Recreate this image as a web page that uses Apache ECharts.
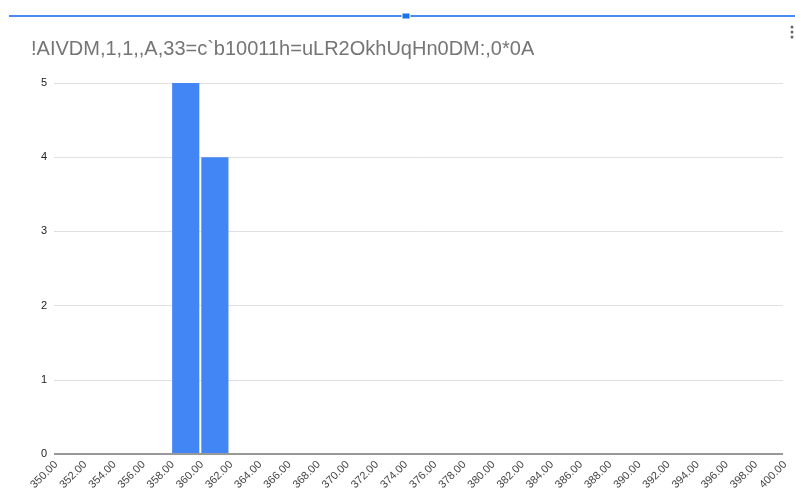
<!DOCTYPE html>
<html>
<head>
<meta charset="utf-8">
<script src="https://cdn.jsdelivr.net/npm/echarts@6/dist/echarts.min.js"></script>
<style>
  html, body { margin: 0; padding: 0; background: #fff; }
  #chart { width: 795px; height: 500px; }
</style>
</head>
<body>
<div id="chart"></div>
<script>
// Histogram bins: [start, end] of each bucket and its count
const titleText = '!AIVDM,1,1,,A,33=c`b10011h=uLR2OkhUqHn0DM:,0*0A';
const binStarts = [358, 360];
const binEnds = [360, 362];
const binCounts = [5, 4];
const xMin = 350, xMax = 400, xStep = 2;
const yMin = 0, yMax = 5, yStep = 1;

const chart = echarts.init(document.getElementById('chart'), null, { renderer: 'canvas' });

const seriesData = binStarts.map((s, i) => [s, binEnds[i], binCounts[i]]);

chart.setOption({
  animation: false,
  backgroundColor: '#ffffff',
  title: {
    text: titleText,
    left: 26,
    top: 34,
    textStyle: { fontFamily: 'Liberation Sans, Arial, sans-serif', fontSize: 20, fontWeight: 'normal', color: '#757575' }
  },
  grid: { left: 54, right: 12, top: 83, bottom: 46, containLabel: false },
  xAxis: {
    type: 'value',
    min: xMin, max: xMax, interval: xStep,
    axisLine: { show: false },
    axisTick: { show: false },
    splitLine: { show: false },
    axisLabel: {
      rotate: 45,
      margin: 11,
      padding: [0, -3, 0, 0],
      fontFamily: 'Liberation Sans, Arial, sans-serif',
      fontSize: 11,
      color: '#444',
      formatter: v => v.toFixed(2)
    }
  },
  yAxis: {
    type: 'value',
    min: yMin, max: yMax, interval: yStep,
    axisLine: { show: false },
    axisTick: { show: false },
    splitLine: { show: true, lineStyle: { color: '#e0e0e0', width: 1 } },
    axisLabel: {
      margin: 7,
      fontFamily: 'Liberation Sans, Arial, sans-serif',
      fontSize: 11,
      color: '#222'
    }
  },
  series: [
    {
      type: 'custom',
      renderItem: function (params, api) {
        const p0 = api.coord([api.value(0), api.value(2)]);
        const p1 = api.coord([api.value(1), 0]);
        return {
          type: 'rect',
          shape: { x: p0[0] + 1.5, y: p0[1], width: p1[0] - p0[0] - 2, height: p1[1] - p0[1] },
          style: { fill: '#4285f4' }
        };
      },
      encode: { x: [0, 1], y: 2 },
      data: seriesData,
      z: 3
    },
    {
      // baseline at zero
      type: 'line',
      data: [[xMin, 0], [xMax, 0]],
      symbol: 'none',
      lineStyle: { color: '#999999', width: 2 },
      silent: true,
      z: 4
    }
  ],
  graphic: [
    { type: 'rect', shape: { x: 9, y: 15, width: 786, height: 2 }, style: { fill: '#4a8af4' } },
    { type: 'rect', shape: { x: 402, y: 13, width: 8, height: 6 }, style: { fill: '#1a73e8', stroke: '#ffffff', lineWidth: 1 } },
    { type: 'circle', shape: { cx: 792, cy: 27, r: 1.5 }, style: { fill: '#666' } },
    { type: 'circle', shape: { cx: 792, cy: 32, r: 1.5 }, style: { fill: '#666' } },
    { type: 'circle', shape: { cx: 792, cy: 37, r: 1.5 }, style: { fill: '#666' } }
  ]
});
</script>
</body>
</html>
